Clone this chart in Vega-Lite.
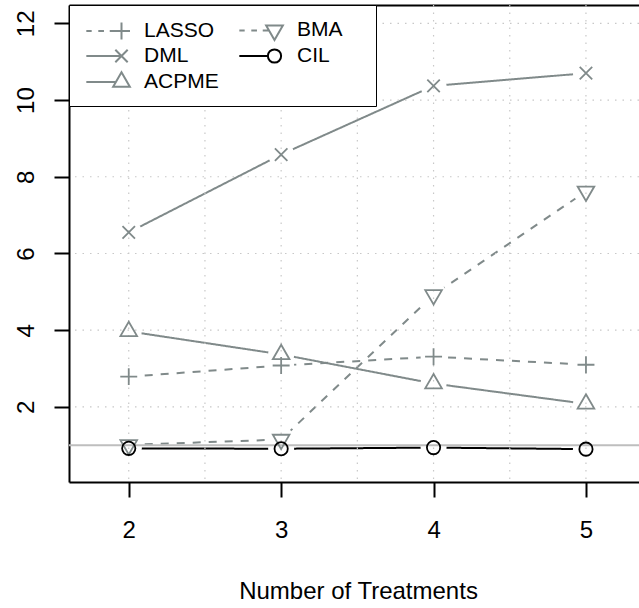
{
  "$schema": "https://vega.github.io/schema/vega-lite/v6.json",
  "width": 570,
  "height": 477,
  "autosize": {"type": "none"},
  "padding": {"left": 69, "top": 5, "right": 0, "bottom": 126},
  "background": "white",
  "config": {"font": "Liberation Sans", "view": {"stroke": null}, "axis": {"grid": false}},
  "datasets": {
    "main": [
      {"series": "LASSO", "x": 2, "y": 2.79},
      {"series": "LASSO", "x": 3, "y": 3.08},
      {"series": "LASSO", "x": 4, "y": 3.31},
      {"series": "LASSO", "x": 5, "y": 3.10},
      {"series": "BMA", "x": 2, "y": 1.01},
      {"series": "BMA", "x": 3, "y": 1.15},
      {"series": "BMA", "x": 4, "y": 4.92},
      {"series": "BMA", "x": 5, "y": 7.62},
      {"series": "DML", "x": 2, "y": 6.55},
      {"series": "DML", "x": 3, "y": 8.58},
      {"series": "DML", "x": 4, "y": 10.37},
      {"series": "DML", "x": 5, "y": 10.70},
      {"series": "CIL", "x": 2, "y": 0.92},
      {"series": "CIL", "x": 3, "y": 0.91},
      {"series": "CIL", "x": 4, "y": 0.94},
      {"series": "CIL", "x": 5, "y": 0.90},
      {"series": "ACPME", "x": 2, "y": 3.97},
      {"series": "ACPME", "x": 3, "y": 3.37},
      {"series": "ACPME", "x": 4, "y": 2.61},
      {"series": "ACPME", "x": 5, "y": 2.08}
    ],
    "vgrid": [{"x": 2}, {"x": 2.5}, {"x": 3}, {"x": 3.5}, {"x": 4}, {"x": 4.5}, {"x": 5}],
    "hgrid": [{"y": 2}, {"y": 4}, {"y": 6}, {"y": 8}, {"y": 10}, {"y": 12}],
    "ref": [{"y": 1}]
  },
  "layer": [
    {
      "data": {"name": "main"},
      "mark": {"type": "line", "strokeWidth": 2},
      "encoding": {
        "x": {
          "field": "x", "type": "quantitative",
          "scale": {"domain": [1.608, 5.348], "nice": false, "zero": false},
          "axis": {
            "orient": "bottom", "values": [2, 3, 4, 5], "format": "d",
            "tickSize": 15, "tickWidth": 2, "tickColor": "black",
            "domainColor": "black", "domainWidth": 2,
            "labelFontSize": 24, "labelColor": "black", "labelBaseline": "alphabetic", "labelPadding": 40.7,
            "labelOverlap": false, "labelFlush": false,
            "title": "Number of Treatments", "titleFontSize": 24, "titleFontWeight": "normal", "titleColor": "black",
            "titleX": 289, "titleY": 116, "titleBaseline": "alphabetic", "titleAlign": "center", "grid": false
          }
        },
        "y": {
          "field": "y", "type": "quantitative",
          "scale": {"domain": [0.043, 12.478], "nice": false, "zero": false},
          "axis": {
            "values": [2, 4, 6, 8, 10, 12], "format": "d",
            "tickSize": 15, "tickWidth": 2, "tickColor": "black",
            "domainColor": "black", "domainWidth": 2,
            "labelFontSize": 24, "labelColor": "black", "labelAngle": 270, "labelAlign": "center", "labelBaseline": "alphabetic", "labelPadding": 21,
            "labelOverlap": false, "labelFlush": false,
            "title": null, "grid": false
          }
        },
        "color": {"field": "series", "type": "nominal", "scale": {"domain": ["LASSO", "DML", "ACPME", "BMA", "CIL"], "range": ["#808a8a", "#808a8a", "#808a8a", "#808a8a", "#000000"]}, "legend": null},
        "strokeDash": {"field": "series", "type": "nominal", "scale": {"domain": ["LASSO", "DML", "ACPME", "BMA", "CIL"], "range": [[8, 8], [1, 0], [1, 0], [8, 8], [1, 0]]}, "legend": null}
      }
    },
    {
      "data": {"name": "main"},
      "mark": {"type": "point", "shape": "circle", "filled": true, "color": "white", "size": 676, "opacity": 1, "strokeWidth": 0},
      "encoding": {
        "x": {"field": "x", "type": "quantitative", "axis": null},
        "y": {"field": "y", "type": "quantitative"}
      }
    },
    {
      "data": {"name": "vgrid"},
      "mark": {"type": "rule", "color": "#c8c8c8", "strokeWidth": 1.2, "strokeDash": [1.5, 6]},
      "encoding": {
        "x": {"field": "x", "type": "quantitative", "axis": {"orient": "top", "ticks": false, "labels": false, "domain": true, "domainColor": "black", "domainWidth": 2, "title": null, "grid": false}}
      }
    },
    {
      "data": {"name": "hgrid"},
      "mark": {"type": "rule", "color": "#c8c8c8", "strokeWidth": 1.2, "strokeDash": [1.5, 6]},
      "encoding": {
        "y": {"field": "y", "type": "quantitative"}
      }
    },
    {
      "data": {"name": "ref"},
      "mark": {"type": "rule", "color": "#bebebe", "strokeWidth": 2},
      "encoding": {
        "y": {"field": "y", "type": "quantitative"}
      }
    },
    {
      "data": {"name": "main"},
      "mark": {"type": "point", "filled": false, "strokeWidth": 1.8, "size": 256, "opacity": 1},
      "encoding": {
        "x": {"field": "x", "type": "quantitative", "axis": null},
        "y": {"field": "y", "type": "quantitative"},
        "color": {"field": "series", "type": "nominal", "scale": {"domain": ["LASSO", "DML", "ACPME", "BMA", "CIL"], "range": ["#808a8a", "#808a8a", "#808a8a", "#808a8a", "#000000"]}, "legend": null},
        "shape": {"field": "series", "type": "nominal", "scale": {"domain": ["LASSO", "DML", "ACPME", "BMA", "CIL"], "range": [
          "M-1.06,0H1.06M0,-1.06V1.06",
          "M-0.78,-0.78L0.78,0.78M-0.78,0.78L0.78,-0.78",
          "M0,-1.2L1.04,0.6L-1.04,0.6Z",
          "M0,1.2L1.04,-0.6L-1.04,-0.6Z",
          "M-0.83,0A0.83,0.83 0 1,0 0.83,0A0.83,0.83 0 1,0 -0.83,0Z"
        ]}, "legend": null}
      }
    },
    {
      "data": {"name": "main"},
      "transform": [{"filter": "datum.x > 100"}],
      "mark": {"type": "point", "filled": false, "opacity": 1},
      "encoding": {
        "color": {
          "field": "series", "type": "nominal",
          "scale": {"domain": ["LASSO", "DML", "ACPME", "BMA", "CIL"], "range": ["#808a8a", "#808a8a", "#808a8a", "#808a8a", "#000000"]},
          "legend": {
            "title": null, "orient": "top-left", "offset": 0, "columns": 2, "direction": "vertical", "gridAlign": "all",
            "padding": 13.5, "rowPadding": -5, "columnPadding": 15,
            "symbolSize": 441, "symbolStrokeWidth": 2, "symbolOffset": 27.5, "labelOffset": 11,
            "labelFontSize": 21, "labelColor": "black", "labelLimit": 0,
            "fillColor": "white", "strokeColor": "black",
            "encode": {"legend": {"update": {"strokeWidth": {"value": 2}}}}
          }
        },
        "shape": {
          "field": "series", "type": "nominal",
          "scale": {"domain": ["LASSO", "DML", "ACPME", "BMA", "CIL"], "range": [
            "M-3.35,0H-2.84M-2.21,0H-1.67M-1.12,0H0.81M0,-0.81V0.81",
            "M-3.35,0H0M-0.59,-0.59L0.59,0.59M-0.59,0.59L0.59,-0.59",
            "M-3.35,0H-0.53M0,-0.92L0.795,0.46L-0.795,0.46Z",
            "M-3.35,0H-2.84M-2.21,0H-1.67M-1.12,0H-0.53M0,0.92L0.795,-0.46L-0.795,-0.46ZM8,0",
            "M-3.35,0H-0.63M-0.63,0A0.63,0.63 0 1,0 0.63,0A0.63,0.63 0 1,0 -0.63,0ZM8,0"
          ]},
          "legend": {
            "title": null, "orient": "top-left", "offset": 0, "columns": 2, "direction": "vertical", "gridAlign": "all",
            "padding": 13.5, "rowPadding": -5, "columnPadding": 15,
            "symbolSize": 441, "symbolStrokeWidth": 2, "symbolOffset": 27.5, "labelOffset": 11,
            "labelFontSize": 21, "labelColor": "black", "labelLimit": 0,
            "fillColor": "white", "strokeColor": "black",
            "encode": {"legend": {"update": {"strokeWidth": {"value": 2}}}}
          }
        }
      }
    }
  ],
  "resolve": {"scale": {"shape": "independent", "color": "independent"}, "axis": {"x": "independent"}}
}
